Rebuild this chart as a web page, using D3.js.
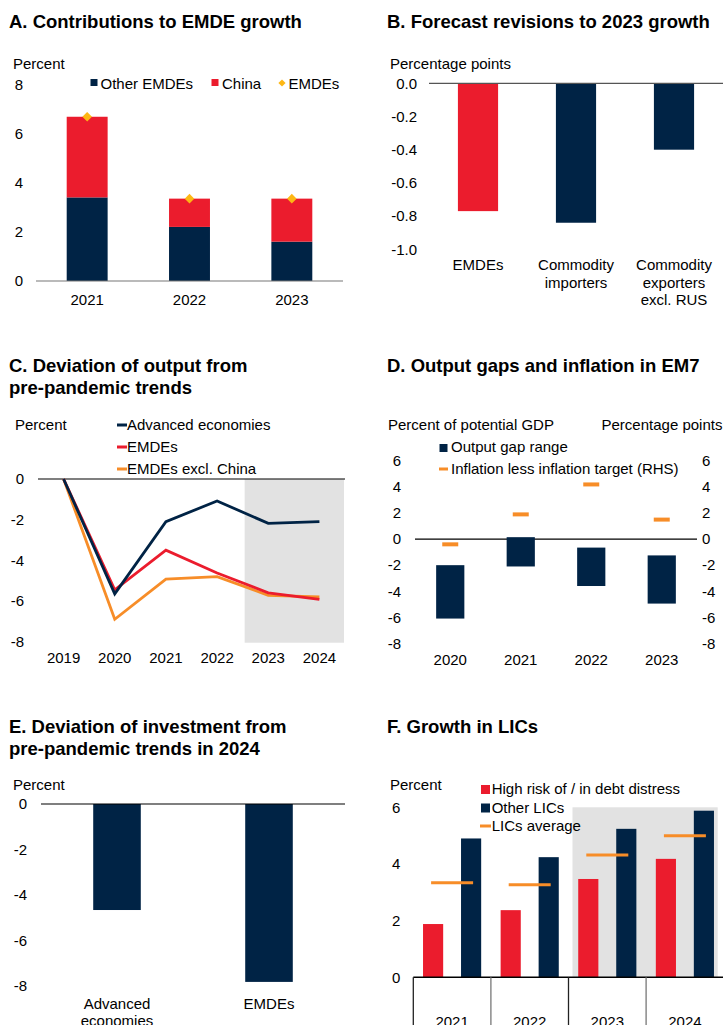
<!DOCTYPE html>
<html lang="en">
<head>
    <meta charset="UTF-8">
    <script src="https://cdnjs.cloudflare.com/ajax/libs/d3/7.8.5/d3.min.js"></script>
    <title>EMDE growth</title>
    <style>
        body { margin: 0; background: #fff; }
        svg { font-family: "Liberation Sans", Arial, sans-serif; }
    </style>
</head>
<body>
<script>
    // panel A
    var aYears = ['2021', '2022', '2023'];
    var aOther = [3.4, 2.2, 1.6];
    var aChina = [3.28, 1.15, 1.75];
    var aEmdes = [6.68, 3.35, 3.35];
    var aTicks = [0, 2, 4, 6, 8];

    // panel B
    var bCats = ['EMDEs', 'Commodity\nimporters', 'Commodity\nexporters\nexcl. RUS'];
    var bVals = [-0.77, -0.84, -0.40];
    var bTicks = [0, -0.2, -0.4, -0.6, -0.8, -1.0];

    // panel C
    var cYears = ['2019', '2020', '2021', '2022', '2023', '2024'];
    var cAdv = [0, -5.65, -2.1, -1.08, -2.18, -2.1];
    var cEmde = [0, -5.45, -3.5, -4.62, -5.6, -5.92];
    var cExCh = [0, -6.9, -4.92, -4.8, -5.72, -5.8];
    var cTicks = [0, -2, -4, -6, -8];

    // panel D
    var dYears = ['2020', '2021', '2022', '2023'];
    var dGapHigh = [-2.0, 0.15, -0.65, -1.25];
    var dGapLow = [-6.1, -2.1, -3.6, -4.95];
    var dInfl = [-0.4, 1.9, 4.2, 1.5];
    var dTicks = [6, 4, 2, 0, -2, -4, -6, -8];

    // panel E
    var eCats = ['Advanced\neconomies', 'EMDEs'];
    var eVals = [-4.66, -7.82];
    var eTicks = [0, -2, -4, -6, -8];

    // panel F
    var fYears = ['2021', '2022', '2023', '2024'];
    var fHigh = [1.88, 2.37, 3.47, 4.18];
    var fOther = [4.9, 4.24, 5.24, 5.88];
    var fAvg = [3.34, 3.27, 4.32, 5.0];
    var fTicks = [0, 2, 4, 6];

    var navy = '#002345', red = '#eb1c2d', orange = '#f78d28', gold = '#fdb714', shade = '#e2e2e2';
    var fs = 15;
    var intFmt = function(d) { return String(d); };

    var svg = d3.select('body').append('svg')
                .attr('width', 723)
                .attr('height', 1025);

    function title(x, y, lines) {
        var t = svg.append('text').attr('x', x).attr('y', y)
                   .attr('font-size', 18.5).attr('font-weight', 'bold');
        lines.forEach(function(l, i) {
            t.append('tspan').attr('x', x).attr('dy', i ? 22 : 0).text(l);
        });
    }

    function label(x, y, txt, anchor) {
        return svg.append('text').attr('x', x).attr('y', y)
                  .attr('font-size', fs).attr('text-anchor', anchor || 'start').text(txt);
    }

    function styleAxis(g) {
        g.select('.domain').remove();
        g.attr('font-size', fs).attr('font-family', null);
        g.selectAll('text').attr('fill', '#000');
    }

    // split "\n" labels into tspans
    function wrap(g) {
        g.selectAll('.tick text').each(function(d) {
            var t = d3.select(this);
            var parts = d.split('\n');
            t.text(null);
            parts.forEach(function(p, i) {
                t.append('tspan').attr('x', 0).attr('dy', i ? '1.15em' : '0.71em').text(p);
            });
        });
    }

    // ---------- A ----------
    title(9, 27.7, ['A. Contributions to EMDE growth']);
    label(13, 68.5, 'Percent');

    var ax = d3.scaleBand().domain(aYears).range([36, 343]).paddingInner(0.6).paddingOuter(0.3);
    var ay = d3.scaleLinear().domain([0, 8]).range([281, 84.3]);

    var aRows = aYears.map(function(y, i) { return {year: y, other: aOther[i], china: aChina[i]}; });
    var aStack = d3.stack().keys(['other', 'china'])(aRows);
    var aColor = {other: navy, china: red};

    svg.selectAll('g.astack').data(aStack).enter()
        .append('g').attr('fill', function(s) { return aColor[s.key]; })
        .selectAll('rect').data(function(s) { return s; }).enter()
            .append('rect')
            .attr('x', function(d) { return ax(d.data.year); })
            .attr('width', ax.bandwidth())
            .attr('y', function(d) { return ay(d[1]); })
            .attr('height', function(d) { return ay(d[0]) - ay(d[1]); });

    var diamond = d3.symbol().type(d3.symbolSquare).size(46);
    svg.selectAll('path.adia').data(aEmdes).enter()
        .append('path')
        .attr('d', diamond)
        .attr('fill', gold)
        .attr('transform', function(d, i) {
            return 'translate(' + (ax(aYears[i]) + ax.bandwidth() / 2) + ',' + ay(d) + ') rotate(45)';
        });

    svg.append('line').attr('x1', 36).attr('x2', 343).attr('y1', ay(0)).attr('y2', ay(0))
        .attr('stroke', '#777').attr('stroke-width', 1.2);
    svg.append('g').attr('transform', 'translate(36,0)')
        .call(d3.axisLeft(ay).tickValues(aTicks).tickSize(0).tickPadding(13).tickFormat(intFmt))
        .call(styleAxis);
    svg.append('g').attr('transform', 'translate(0,' + ay(0) + ')')
        .call(d3.axisBottom(ax).tickSize(0).tickPadding(13))
        .call(styleAxis);

    // legend A
    svg.append('rect').attr('x', 90.5).attr('y', 79).attr('width', 7).attr('height', 7).attr('fill', navy);
    label(100.5, 89.3, 'Other EMDEs');
    svg.append('rect').attr('x', 211.5).attr('y', 79).attr('width', 7).attr('height', 7).attr('fill', red);
    label(222, 89.3, 'China');
    svg.append('path').attr('d', d3.symbol().type(d3.symbolSquare).size(26))
        .attr('fill', gold).attr('transform', 'translate(282,83) rotate(45)');
    label(288.5, 89.3, 'EMDEs');

    // ---------- B ----------
    title(387, 27.7, ['B. Forecast revisions to 2023 growth']);
    label(390, 69, 'Percentage points');

    var bx = d3.scaleBand().domain(bCats).range([429, 723]).paddingInner(0.59).paddingOuter(0.295);
    var by = d3.scaleLinear().domain([-1, 0]).range([249.3, 83.3]);

    svg.selectAll('rect.bbar').data(bVals).enter()
        .append('rect')
        .attr('x', function(d, i) { return bx(bCats[i]); })
        .attr('width', bx.bandwidth())
        .attr('y', by(0))
        .attr('height', function(d) { return by(d) - by(0); })
        .attr('fill', function(d, i) { return i === 0 ? red : navy; });

    svg.append('line').attr('x1', 429).attr('x2', 723).attr('y1', by(0)).attr('y2', by(0))
        .attr('stroke', '#555').attr('stroke-width', 1.2);
    svg.append('g').attr('transform', 'translate(429,0)')
        .call(d3.axisLeft(by).tickValues(bTicks).tickSize(0).tickPadding(12)
              .tickFormat(function(d) { return d.toFixed(1); }))
        .call(styleAxis);
    svg.append('g').attr('transform', 'translate(0,' + by(-1) + ')')
        .call(d3.axisBottom(bx).tickSize(0).tickPadding(10.5))
        .call(styleAxis).call(wrap);

    // ---------- C ----------
    title(9, 371.7, ['C. Deviation of output from', 'pre-pandemic trends']);
    label(15, 430, 'Percent');

    var cx = d3.scaleBand().domain(cYears).range([38, 345]);
    var cy = d3.scaleLinear().domain([-8, 0]).range([641.7, 479]);
    var cMid = function(y) { return cx(y) + cx.bandwidth() / 2; };

    svg.append('rect').attr('x', cx('2023') + 2).attr('y', cy(0))
        .attr('width', 344 - cx('2023') - 2).attr('height', cy(-8) - cy(0) + 1)
        .attr('fill', shade);
    svg.append('line').attr('x1', 38).attr('x2', 345).attr('y1', cy(0)).attr('y2', cy(0))
        .attr('stroke', '#000').attr('stroke-width', 1.2);

    var cLine = d3.line()
        .x(function(d, i) { return cMid(cYears[i]); })
        .y(function(d) { return cy(d); });
    var cSeries = [
        {name: 'EMDEs excl. China', vals: cExCh, color: orange},
        {name: 'EMDEs', vals: cEmde, color: red},
        {name: 'Advanced economies', vals: cAdv, color: navy}
    ];
    svg.selectAll('path.cline').data(cSeries).enter()
        .append('path')
        .attr('d', function(s) { return cLine(s.vals); })
        .attr('fill', 'none')
        .attr('stroke', function(s) { return s.color; })
        .attr('stroke-width', 2.8);

    svg.append('g').attr('transform', 'translate(38,0)')
        .call(d3.axisLeft(cy).tickValues(cTicks).tickSize(0).tickPadding(14).tickFormat(intFmt))
        .call(styleAxis);
    svg.append('g').attr('transform', 'translate(0,' + cy(-8) + ')')
        .call(d3.axisBottom(cx).tickSize(0).tickPadding(10.5))
        .call(styleAxis);

    // legend C
    cSeries.slice().reverse().forEach(function(s, i) {
        var yy = 430 + i * 22;
        svg.append('line').attr('x1', 117).attr('x2', 127).attr('y1', yy - 5).attr('y2', yy - 5)
            .attr('stroke', s.color).attr('stroke-width', 3);
        label(127, yy, s.name);
    });

    // ---------- D ----------
    title(387, 371.7, ['D. Output gaps and inflation in EM7']);
    label(388, 430, 'Percent of potential GDP');
    label(601.5, 430, 'Percentage points');

    var dx = d3.scaleBand().domain(dYears).range([415, 697]).paddingInner(0.6).paddingOuter(0.3);
    var dy = d3.scaleLinear().domain([-8, 6]).range([643.3, 461]);

    svg.append('line').attr('x1', 415).attr('x2', 697).attr('y1', dy(0)).attr('y2', dy(0))
        .attr('stroke', '#000').attr('stroke-width', 1.2);
    svg.selectAll('rect.dbar').data(dGapHigh).enter()
        .append('rect')
        .attr('x', function(d, i) { return dx(dYears[i]); })
        .attr('width', dx.bandwidth())
        .attr('y', function(d) { return dy(d); })
        .attr('height', function(d, i) { return dy(dGapLow[i]) - dy(d); })
        .attr('fill', navy);
    svg.selectAll('line.dinf').data(dInfl).enter()
        .append('line')
        .attr('x1', function(d, i) { return dx(dYears[i]) + dx.bandwidth() / 2 - 8; })
        .attr('x2', function(d, i) { return dx(dYears[i]) + dx.bandwidth() / 2 + 8; })
        .attr('y1', function(d) { return dy(d); })
        .attr('y2', function(d) { return dy(d); })
        .attr('stroke', orange).attr('stroke-width', 4);

    svg.append('g').attr('transform', 'translate(415,0)')
        .call(d3.axisLeft(dy).tickValues(dTicks).tickSize(0).tickPadding(14).tickFormat(intFmt))
        .call(styleAxis);
    svg.append('g').attr('transform', 'translate(697,0)')
        .call(d3.axisRight(dy).tickValues(dTicks).tickSize(0).tickPadding(5).tickFormat(intFmt))
        .call(styleAxis);
    svg.append('g').attr('transform', 'translate(0,' + dy(-8) + ')')
        .call(d3.axisBottom(dx).tickSize(0).tickPadding(11))
        .call(styleAxis);

    // legend D
    svg.append('rect').attr('x', 439.5).attr('y', 444).attr('width', 8).attr('height', 8).attr('fill', navy);
    label(451, 452, 'Output gap range');
    svg.append('line').attr('x1', 439).attr('x2', 448).attr('y1', 469).attr('y2', 469)
        .attr('stroke', orange).attr('stroke-width', 3);
    label(451, 474, 'Inflation less inflation target (RHS)');

    // ---------- E ----------
    title(9, 733, ['E. Deviation of investment from', 'pre-pandemic trends in 2024']);
    label(13, 790, 'Percent');

    var ex = d3.scaleBand().domain(eCats).range([41, 345]).paddingInner(0.687).paddingOuter(0.3435);
    var ey = d3.scaleLinear().domain([-8, 0]).range([986, 804]);

    svg.selectAll('rect.ebar').data(eVals).enter()
        .append('rect')
        .attr('x', function(d, i) { return ex(eCats[i]); })
        .attr('width', ex.bandwidth())
        .attr('y', ey(0))
        .attr('height', function(d) { return ey(d) - ey(0); })
        .attr('fill', navy);
    svg.append('line').attr('x1', 41).attr('x2', 345).attr('y1', ey(0)).attr('y2', ey(0))
        .attr('stroke', '#000').attr('stroke-width', 1.2);
    svg.append('g').attr('transform', 'translate(41,0)')
        .call(d3.axisLeft(ey).tickValues(eTicks).tickSize(0).tickPadding(14).tickFormat(intFmt))
        .call(styleAxis);
    svg.append('g').attr('transform', 'translate(0,' + ey(-8) + ')')
        .call(d3.axisBottom(ex).tickSize(0).tickPadding(12))
        .call(styleAxis).call(wrap);

    // ---------- F ----------
    title(387, 733, ['F. Growth in LICs']);
    label(390, 790, 'Percent');

    var fx = d3.scaleBand().domain(fYears).range([413.3, 723.7]);
    var fIn = d3.scaleBand().domain(['high', 'other']).range([0, fx.bandwidth()])
                .paddingInner(0.47).paddingOuter(0.256);
    var fy = d3.scaleLinear().domain([0, 6]).range([977.3, 807.3]);

    svg.append('rect').attr('x', fx('2023') + 4).attr('y', fy(6))
        .attr('width', fx('2024') + fx.bandwidth() - 6 - fx('2023') - 4)
        .attr('height', fy(0) - fy(6))
        .attr('fill', shade);

    var fGroups = svg.selectAll('g.fgrp').data(fYears).enter()
        .append('g').attr('transform', function(d) { return 'translate(' + fx(d) + ',0)'; });
    fGroups.append('rect')
        .attr('x', fIn('high')).attr('width', fIn.bandwidth())
        .attr('y', function(d, i) { return fy(fHigh[i]); })
        .attr('height', function(d, i) { return fy(0) - fy(fHigh[i]); })
        .attr('fill', red);
    fGroups.append('rect')
        .attr('x', fIn('other')).attr('width', fIn.bandwidth())
        .attr('y', function(d, i) { return fy(fOther[i]); })
        .attr('height', function(d, i) { return fy(0) - fy(fOther[i]); })
        .attr('fill', navy);
    fGroups.append('line')
        .attr('x1', fIn('high') + fIn.bandwidth() / 2 - 2)
        .attr('x2', fIn('other') + fIn.bandwidth() / 2 + 2)
        .attr('y1', function(d, i) { return fy(fAvg[i]); })
        .attr('y2', function(d, i) { return fy(fAvg[i]); })
        .attr('stroke', orange).attr('stroke-width', 3);

    // category boxes
    svg.append('line').attr('x1', 413.3).attr('x2', 723.7).attr('y1', fy(0)).attr('y2', fy(0))
        .attr('stroke', '#000').attr('stroke-width', 1.5);
    svg.selectAll('line.fsep').data(fYears).enter()
        .append('line')
        .attr('x1', function(d) { return fx(d); })
        .attr('x2', function(d) { return fx(d); })
        .attr('y1', fy(0)).attr('y2', 1025)
        .attr('stroke', function(d, i) { return i % 2 ? '#777' : '#222'; })
        .attr('stroke-width', 1.3);

    svg.append('g').attr('transform', 'translate(413.3,0)')
        .call(d3.axisLeft(fy).tickValues(fTicks).tickSize(0).tickPadding(13).tickFormat(intFmt))
        .call(styleAxis);
    svg.append('g').attr('transform', 'translate(0,' + fy(0) + ')')
        .call(d3.axisBottom(fx).tickSize(0).tickPadding(39))
        .call(styleAxis);

    // legend F
    var fLeg = [
        {name: 'High risk of / in debt distress', color: red, kind: 'box'},
        {name: 'Other LICs', color: navy, kind: 'box'},
        {name: 'LICs average', color: orange, kind: 'line'}
    ];
    fLeg.forEach(function(l, i) {
        var yy = 794 + i * 18.5;
        if (l.kind === 'box') {
            svg.append('rect').attr('x', 481).attr('y', yy - 9).attr('width', 9).attr('height', 9).attr('fill', l.color);
        } else {
            svg.append('line').attr('x1', 480).attr('x2', 491).attr('y1', yy - 5).attr('y2', yy - 5)
                .attr('stroke', l.color).attr('stroke-width', 3);
        }
        label(491.7, yy, l.name);
    });
</script>
</body>
</html>
